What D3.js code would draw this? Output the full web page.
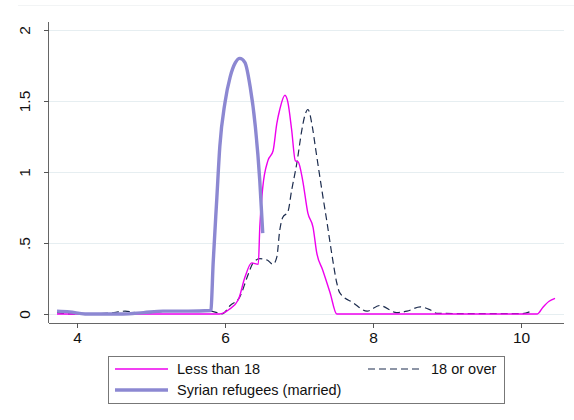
<!DOCTYPE html>
<html><head><meta charset="utf-8">
<script src="https://cdn.jsdelivr.net/npm/d3@7"></script>
<style>body{margin:0;background:#fff}svg{display:block}text{font-family:"Liberation Sans",Arial,sans-serif}</style>
</head><body>
<script>
const xTicks = [4, 6, 8, 10];
const yTicks = [0, 0.5, 1, 1.5, 2];
const yTickLabels = ["0", ".5", "1", "1.5", "2"];
const seriesNames = ["Less than 18", "18 or over", "Syrian refugees (married)"];

const lessX = [3.73,4.5,5.0,5.5,5.93,6.05,6.18,6.27,6.36,6.45,6.47,6.51,6.58,6.65,6.70,6.74,6.81,6.85,6.90,6.95,6.99,7.05,7.12,7.19,7.24,7.32,7.42,7.51,8.0,9.0,10.0,10.22,10.3,10.38,10.46];
const lessY = [0,0,0,0,0,0.03,0.10,0.26,0.36,0.35,0.61,0.89,1.08,1.15,1.34,1.44,1.54,1.49,1.30,1.08,1.07,0.94,0.71,0.61,0.43,0.31,0.15,0,0,0,0,0,0.05,0.09,0.11];

const overX = [3.73,3.93,4.2,4.5,4.65,4.8,5.0,5.2,5.4,5.6,5.8,5.89,5.96,6.07,6.2,6.3,6.38,6.47,6.57,6.65,6.70,6.74,6.78,6.85,6.90,6.97,7.04,7.08,7.12,7.18,7.22,7.24,7.31,7.38,7.45,7.51,7.55,7.73,7.92,8.09,8.32,8.46,8.64,8.77,8.86,9.2,9.6,10.0,10.14];
const overY = [0.01,0,0,0.01,0.02,0.01,0.01,0.02,0.02,0.02,0.02,0.01,0,0.06,0.12,0.26,0.36,0.39,0.38,0.35,0.40,0.59,0.68,0.72,0.87,1.06,1.30,1.40,1.44,1.32,1.18,1.11,0.87,0.64,0.40,0.22,0.15,0.08,0.02,0.06,0.01,0.02,0.05,0.03,0.005,0.003,0.002,0.002,0.02];

const syrX = [3.73,3.9,4.11,4.4,4.62,4.9,5.16,5.5,5.8,5.81,5.84,5.89,5.93,6.0,6.07,6.14,6.2,6.27,6.34,6.41,6.47,6.51];
const syrY = [0.02,0.015,0,0,0,0.01,0.02,0.02,0.025,0.03,0.36,0.82,1.18,1.49,1.67,1.77,1.80,1.77,1.60,1.32,0.94,0.57];

const W = 574, H = 420;
const svg = d3.select("body").append("svg").attr("width", W).attr("height", H);

const x = d3.scaleLinear().domain([4, 10]).range([77, 521]);
const y = d3.scaleLinear().domain([0, 2]).range([314, 30]);
const plotL = 49, plotR = 564, axisY = 323;

svg.append("line").attr("x1", 18).attr("x2", 574).attr("y1", 5.5).attr("y2", 5.5)
  .attr("stroke", "#f2f4f5").attr("stroke-width", 1);

svg.append("g").selectAll("line").data(yTicks).join("line")
  .attr("x1", plotL).attr("x2", plotR)
  .attr("y1", d => Math.round(y(d)) + 0.5).attr("y2", d => Math.round(y(d)) + 0.5)
  .attr("stroke", "#e6eef1").attr("stroke-width", 1);

const yAxis = d3.axisLeft(y).tickValues(yTicks).tickSize(5).tickFormat((d, i) => yTickLabels[i]);
const gy = svg.append("g").attr("transform", `translate(${plotL},0)`).call(yAxis);
gy.select(".domain").attr("d", `M-0.5,22V${axisY}`).attr("stroke", "#666");
gy.selectAll(".tick line").attr("stroke", "#555");
gy.selectAll(".tick text").attr("font-size", 15.5).attr("fill", "#111")
  .attr("transform", "rotate(-90)").attr("x", 0).attr("y", -19).attr("dy", 0)
  .attr("text-anchor", "middle").attr("dominant-baseline", "auto");

const xAxis = d3.axisBottom(x).tickValues(xTicks).tickSize(5).tickFormat(d3.format("d"));
const gx = svg.append("g").attr("transform", `translate(0,${axisY})`).call(xAxis);
gx.select(".domain").attr("d", `M${plotL},0.5H${plotR}`).attr("stroke", "#666");
gx.selectAll(".tick line").attr("stroke", "#555");
gx.selectAll(".tick text").attr("font-size", 15.5).attr("fill", "#111").attr("y", 9);

const line = d3.line().x(d => x(d[0])).y(d => y(d[1])).curve(d3.curveMonotoneX);
const zip = (a, b) => a.map((v, i) => [v, b[i]]);

svg.append("path").datum(zip(overX, overY)).attr("d", line)
  .attr("fill", "none").attr("stroke", "#1c2c4e").attr("stroke-width", 1.2).attr("stroke-dasharray", "7,4");
svg.append("path").datum(zip(lessX, lessY)).attr("d", line)
  .attr("fill", "none").attr("stroke", "#ee00ee").attr("stroke-width", 1.4);
svg.append("path").datum(zip(syrX, syrY)).attr("d", line)
  .attr("fill", "none").attr("stroke", "#8c88d2").attr("stroke-width", 3.4).attr("stroke-linejoin", "round");

const lg = svg.append("g");
lg.append("rect").attr("x", 108.5).attr("y", 356.5).attr("width", 396).attr("height", 47)
  .attr("fill", "#fff").attr("stroke", "#777");
const items = [
  {name: seriesNames[0], x0: 115, x1: 168, tx: 177, ty: 369, color: "#ee00ee", w: 1.4, dash: null},
  {name: seriesNames[1], x0: 368, x1: 422, tx: 431, ty: 369, color: "#1c2c4e", w: 1.2, dash: "7,4"},
  {name: seriesNames[2], x0: 115, x1: 168, tx: 177, ty: 390, color: "#8c88d2", w: 3.4, dash: null}
];
items.forEach(it => {
  lg.append("line").attr("x1", it.x0).attr("x2", it.x1).attr("y1", it.ty).attr("y2", it.ty)
    .attr("stroke", it.color).attr("stroke-width", it.w).attr("stroke-dasharray", it.dash);
  lg.append("text").attr("x", it.tx).attr("y", it.ty + 5).attr("font-size", 14.5).attr("fill", "#111").text(it.name);
});
</script>
</body></html>
